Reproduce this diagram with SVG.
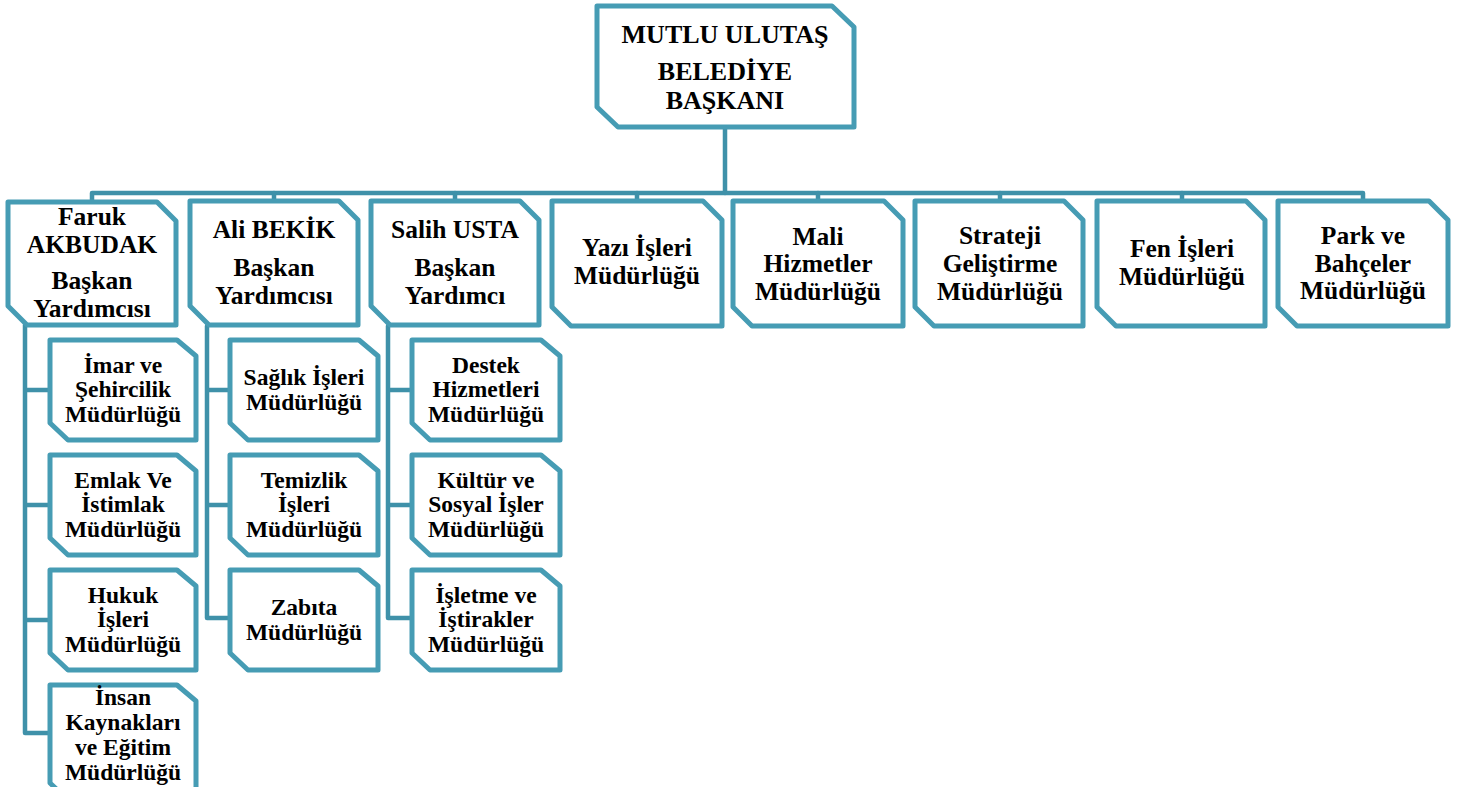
<svg xmlns="http://www.w3.org/2000/svg" width="1459" height="787" viewBox="0 0 1459 787">
<style>
.box{fill:#fff;stroke:#469CB4;stroke-width:5;stroke-linejoin:round}
.con{fill:none;stroke:#3F91A9;stroke-width:4.5;stroke-linejoin:round;stroke-linecap:round}
text{font-family:"Liberation Serif","Times New Roman",serif;font-weight:bold;fill:#000;text-anchor:middle}
.t1{font-size:26px}
.t2{font-size:25.5px}
.t3{font-size:23.5px}
</style>
<rect width="1459" height="787" fill="#fff"/>
<g id="connectors">
<path class="con" d="M725,127 V193"/>
<path class="con" d="M92,201 V193 H1363 V201"/>
<path class="con" d="M274,193 V201 M455,193 V201 M637,193 V201 M818,193 V201 M1000,193 V201 M1182,193 V201"/>
<path class="con" d="M25,325 V733 H50 M25,390 H50 M25,505 H50 M25,620 H50"/>
<path class="con" d="M207,326 V618 H230 M207,390 H230 M207,505 H230"/>
<path class="con" d="M388,326 V618 H412 M388,390 H412 M388,505 H412"/>
</g>
<g id="mayor">
<path class="box" d="M597,6 H832 L854,27 V127 H618 L597,107 Z"/>
<text class="t1" x="725" y="43">MUTLU ULUTAŞ</text>
<text class="t1" x="725" y="80">BELEDİYE</text>
<text class="t1" x="725" y="109">BAŞKANI</text>
</g>
<g id="faruk">
<path class="box" d="M8,202 H157 L176,221 V325 H27 L8,306 Z"/>
<text class="t2" x="92" y="225">Faruk</text>
<text class="t2" x="92" y="253">AKBUDAK</text>
<text class="t2" x="92" y="289">Başkan</text>
<text class="t2" x="92" y="317">Yardımcısı</text>
</g>
<g id="ali">
<path class="box" d="M190,201 H339 L358,220 V325 H209 L190,306 Z"/>
<text class="t2" x="274" y="238">Ali BEKİK</text>
<text class="t2" x="274" y="276">Başkan</text>
<text class="t2" x="274" y="304">Yardımcısı</text>
</g>
<g id="salih">
<path class="box" d="M371,201 H520 L539,220 V325 H390 L371,306 Z"/>
<text class="t2" x="455" y="238">Salih USTA</text>
<text class="t2" x="455" y="276">Başkan</text>
<text class="t2" x="455" y="304">Yardımcı</text>
</g>
<g id="yazi">
<path class="box" d="M552,201 H703 L722,220 V326 H571 L552,307 Z"/>
<text class="t2" x="637" y="256">Yazı İşleri</text>
<text class="t2" x="637" y="284">Müdürlüğü</text>
</g>
<g id="mali">
<path class="box" d="M733,201 H884 L903,220 V326 H752 L733,307 Z"/>
<text class="t2" x="818" y="245">Mali</text>
<text class="t2" x="818" y="272">Hizmetler</text>
<text class="t2" x="818" y="300">Müdürlüğü</text>
</g>
<g id="strateji">
<path class="box" d="M915,201 H1064 L1083,220 V326 H934 L915,307 Z"/>
<text class="t2" x="1000" y="244">Strateji</text>
<text class="t2" x="1000" y="272">Geliştirme</text>
<text class="t2" x="1000" y="300">Müdürlüğü</text>
</g>
<g id="fen">
<path class="box" d="M1097,201 H1246 L1265,220 V326 H1116 L1097,307 Z"/>
<text class="t2" x="1182" y="257">Fen İşleri</text>
<text class="t2" x="1182" y="285">Müdürlüğü</text>
</g>
<g id="park">
<path class="box" d="M1278,201 H1429 L1448,220 V326 H1297 L1278,307 Z"/>
<text class="t2" x="1363" y="244">Park ve</text>
<text class="t2" x="1363" y="272">Bahçeler</text>
<text class="t2" x="1363" y="299">Müdürlüğü</text>
</g>
<g id="imar">
<path class="box" d="M50,340 H177 L196,356 V440 H68 L50,423 Z"/>
<text class="t3" x="123" y="373">İmar ve</text>
<text class="t3" x="123" y="397">Şehircilik</text>
<text class="t3" x="123" y="422">Müdürlüğü</text>
</g>
<g id="emlak">
<path class="box" d="M50,455 H177 L196,471 V555 H68 L50,538 Z"/>
<text class="t3" x="123" y="488">Emlak Ve</text>
<text class="t3" x="123" y="512">İstimlak</text>
<text class="t3" x="123" y="537">Müdürlüğü</text>
</g>
<g id="hukuk">
<path class="box" d="M50,570 H177 L196,586 V670 H68 L50,653 Z"/>
<text class="t3" x="123" y="603">Hukuk</text>
<text class="t3" x="123" y="627">İşleri</text>
<text class="t3" x="123" y="652">Müdürlüğü</text>
</g>
<g id="insan">
<path class="box" d="M50,685 H177 L196,701 V800 H68 L50,783 Z"/>
<text class="t3" x="123" y="705">İnsan</text>
<text class="t3" x="123" y="730">Kaynakları</text>
<text class="t3" x="123" y="755">ve Eğitim</text>
<text class="t3" x="123" y="780">Müdürlüğü</text>
</g>
<g id="saglik">
<path class="box" d="M230,340 H359 L378,356 V440 H248 L230,423 Z"/>
<text class="t3" x="304" y="385">Sağlık İşleri</text>
<text class="t3" x="304" y="410">Müdürlüğü</text>
</g>
<g id="temizlik">
<path class="box" d="M230,455 H359 L378,471 V555 H248 L230,538 Z"/>
<text class="t3" x="304" y="488">Temizlik</text>
<text class="t3" x="304" y="512">İşleri</text>
<text class="t3" x="304" y="537">Müdürlüğü</text>
</g>
<g id="zabita">
<path class="box" d="M230,570 H359 L378,586 V670 H248 L230,653 Z"/>
<text class="t3" x="304" y="615">Zabıta</text>
<text class="t3" x="304" y="640">Müdürlüğü</text>
</g>
<g id="destek">
<path class="box" d="M412,340 H541 L560,356 V440 H430 L412,423 Z"/>
<text class="t3" x="486" y="373">Destek</text>
<text class="t3" x="486" y="397">Hizmetleri</text>
<text class="t3" x="486" y="422">Müdürlüğü</text>
</g>
<g id="kultur">
<path class="box" d="M412,455 H541 L560,471 V555 H430 L412,538 Z"/>
<text class="t3" x="486" y="488">Kültür ve</text>
<text class="t3" x="486" y="512">Sosyal İşler</text>
<text class="t3" x="486" y="537">Müdürlüğü</text>
</g>
<g id="isletme">
<path class="box" d="M412,570 H541 L560,586 V670 H430 L412,653 Z"/>
<text class="t3" x="486" y="603">İşletme ve</text>
<text class="t3" x="486" y="627">İştirakler</text>
<text class="t3" x="486" y="652">Müdürlüğü</text>
</g>
</svg>
